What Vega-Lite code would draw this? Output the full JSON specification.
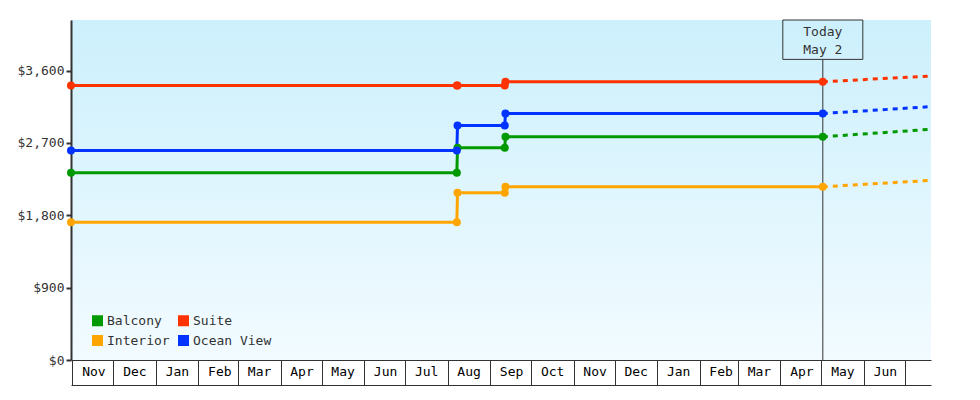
{
  "$schema": "https://vega.github.io/schema/vega-lite/v6.json",
  "width": 860,
  "height": 340,
  "autosize": "none",
  "padding": {"left": 71, "top": 20, "right": 49, "bottom": 40},
  "background": "white",
  "config": {
    "font": "DejaVu Sans Mono",
    "view": {
      "stroke": null,
      "fill": {
        "gradient": "linear",
        "x1": 0, "y1": 0, "x2": 0, "y2": 1,
        "stops": [
          {"offset": 0, "color": "#ccf0fc"},
          {"offset": 1, "color": "#f2fbff"}
        ]
      }
    },
    "axis": {
      "labelFont": "DejaVu Sans Mono",
      "labelFontSize": 13,
      "labelColor": "#333",
      "domainColor": "#333",
      "tickColor": "#333",
      "grid": false,
      "title": null
    }
  },
  "datasets": {
    "prices": [
      {"cabin": "Balcony", "date": "2015-10-31T00:00:00Z", "price": 2329},
      {"cabin": "Balcony", "date": "2016-08-07T18:00:00Z", "price": 2329},
      {"cabin": "Balcony", "date": "2016-08-08T06:00:00Z", "price": 2640},
      {"cabin": "Balcony", "date": "2016-09-11T18:00:00Z", "price": 2640},
      {"cabin": "Balcony", "date": "2016-09-12T06:00:00Z", "price": 2777},
      {"cabin": "Balcony", "date": "2017-05-02T00:00:00Z", "price": 2777},
      {"cabin": "Suite", "date": "2015-10-31T00:00:00Z", "price": 3416},
      {"cabin": "Suite", "date": "2016-08-07T18:00:00Z", "price": 3416},
      {"cabin": "Suite", "date": "2016-08-08T06:00:00Z", "price": 3416},
      {"cabin": "Suite", "date": "2016-09-11T18:00:00Z", "price": 3416},
      {"cabin": "Suite", "date": "2016-09-12T06:00:00Z", "price": 3462},
      {"cabin": "Suite", "date": "2017-05-02T00:00:00Z", "price": 3462},
      {"cabin": "Interior", "date": "2015-10-31T00:00:00Z", "price": 1715},
      {"cabin": "Interior", "date": "2016-08-07T18:00:00Z", "price": 1715},
      {"cabin": "Interior", "date": "2016-08-08T06:00:00Z", "price": 2080},
      {"cabin": "Interior", "date": "2016-09-11T18:00:00Z", "price": 2080},
      {"cabin": "Interior", "date": "2016-09-12T06:00:00Z", "price": 2155},
      {"cabin": "Interior", "date": "2017-05-02T00:00:00Z", "price": 2155},
      {"cabin": "Ocean View", "date": "2015-10-31T00:00:00Z", "price": 2607},
      {"cabin": "Ocean View", "date": "2016-08-07T18:00:00Z", "price": 2607},
      {"cabin": "Ocean View", "date": "2016-08-08T06:00:00Z", "price": 2918},
      {"cabin": "Ocean View", "date": "2016-09-11T18:00:00Z", "price": 2918},
      {"cabin": "Ocean View", "date": "2016-09-12T06:00:00Z", "price": 3067},
      {"cabin": "Ocean View", "date": "2017-05-02T00:00:00Z", "price": 3067}
    ],
    "projection": [
      {"cabin": "Balcony", "date": "2017-05-02T00:00:00Z", "price": 2777},
      {"cabin": "Balcony", "date": "2017-07-18T00:00:00Z", "price": 2868},
      {"cabin": "Suite", "date": "2017-05-02T00:00:00Z", "price": 3462},
      {"cabin": "Suite", "date": "2017-07-18T00:00:00Z", "price": 3531},
      {"cabin": "Interior", "date": "2017-05-02T00:00:00Z", "price": 2155},
      {"cabin": "Interior", "date": "2017-07-18T00:00:00Z", "price": 2233},
      {"cabin": "Ocean View", "date": "2017-05-02T00:00:00Z", "price": 3067},
      {"cabin": "Ocean View", "date": "2017-07-18T00:00:00Z", "price": 3150}
    ],
    "today": [
      {"date": "2017-05-02T00:00:00Z", "label": ["Today", "May 2"]}
    ]
  },
  "resolve": {"axis": {"x": "independent"}},
  "layer": [
    {
      "data": {"name": "prices"},
      "mark": {"type": "line", "strokeWidth": 3},
      "encoding": {
        "x": {
          "field": "date",
          "type": "temporal",
          "scale": {
            "type": "utc",
            "domain": [
              {"year": 2015, "month": 10, "date": 31, "utc": true},
              {"year": 2017, "month": 7, "date": 20, "utc": true}
            ]
          },
          "axis": {
            "orient": "bottom",
            "tickCount": {"interval": "month", "step": 1},
            "tickSize": 25,
            "tickWidth": 1,
            "domainWidth": 1,
            "labelOffset": 21,
            "labelAlign": "center",
            "labelBaseline": "top",
            "labelPadding": -20,
            "labelColor": "#000",
            "labelOverlap": false,
            "labelBound": false,
            "labelFlush": false,
            "labelExpr": "datum.value >= 1498867200000 ? '' : utcFormat(datum.value, '%b')"
          }
        },
        "y": {
          "field": "price",
          "type": "quantitative",
          "scale": {"domain": [0, 4230], "nice": false, "zero": true},
          "axis": {
            "values": [0, 900, 1800, 2700, 3600],
            "format": "$,.0f",
            "domainWidth": 2,
            "tickWidth": 2,
            "tickSize": 5,
            "labelPadding": 2
          }
        },
        "color": {
          "field": "cabin",
          "type": "nominal",
          "scale": {
            "domain": ["Balcony", "Interior", "Suite", "Ocean View"],
            "range": ["#009900", "#ffa500", "#ff3300", "#0033ff"]
          },
          "legend": {
            "title": null,
            "orient": "none",
            "legendX": 20,
            "legendY": 294,
            "columns": 2,
            "symbolType": "square",
            "symbolSize": 121,
            "symbolStrokeWidth": 0,
            "labelFont": "DejaVu Sans Mono",
            "labelFontSize": 13,
            "labelColor": "#333",
            "labelOffset": 3,
            "columnPadding": 7,
            "rowPadding": 6,
            "encode": {
              "symbols": {
                "update": {
                  "fill": {"scale": "color", "field": "value"},
                  "stroke": {"value": "transparent"}
                }
              }
            }
          }
        }
      }
    },
    {
      "data": {"name": "projection"},
      "mark": {"type": "line", "strokeWidth": 3, "strokeDash": [5, 5]},
      "encoding": {
        "x": {
          "field": "date",
          "type": "temporal",
          "axis": {
            "orient": "bottom",
            "offset": 25,
            "domain": true,
            "domainWidth": 1,
            "ticks": false,
            "labels": false
          }
        },
        "y": {"field": "price", "type": "quantitative"},
        "color": {"field": "cabin", "type": "nominal", "legend": null}
      }
    },
    {
      "data": {"name": "today"},
      "mark": {"type": "rule", "color": "#333", "strokeWidth": 1},
      "encoding": {
        "x": {"field": "date", "type": "temporal", "axis": null},
        "y": {"datum": 0},
        "y2": {"datum": 3740}
      }
    },
    {
      "data": {"name": "today"},
      "mark": {"type": "rect", "fill": null, "stroke": "#333", "strokeWidth": 1, "xOffset": -40, "x2Offset": 40},
      "encoding": {
        "x": {"field": "date", "type": "temporal", "axis": null},
        "x2": {"field": "date"},
        "y": {"datum": 4230},
        "y2": {"datum": 3740}
      }
    },
    {
      "data": {"name": "today"},
      "mark": {"type": "text", "font": "DejaVu Sans Mono", "fontSize": 13, "color": "#333", "align": "center", "baseline": "middle", "lineHeight": 18},
      "encoding": {
        "x": {"field": "date", "type": "temporal", "axis": null},
        "y": {"datum": 4075},
        "text": {"field": "label"}
      }
    },
    {
      "data": {"name": "prices"},
      "mark": {"type": "circle", "size": 64, "opacity": 1},
      "encoding": {
        "x": {"field": "date", "type": "temporal", "axis": null},
        "y": {"field": "price", "type": "quantitative"},
        "color": {"field": "cabin", "type": "nominal", "legend": null}
      }
    }
  ]
}
